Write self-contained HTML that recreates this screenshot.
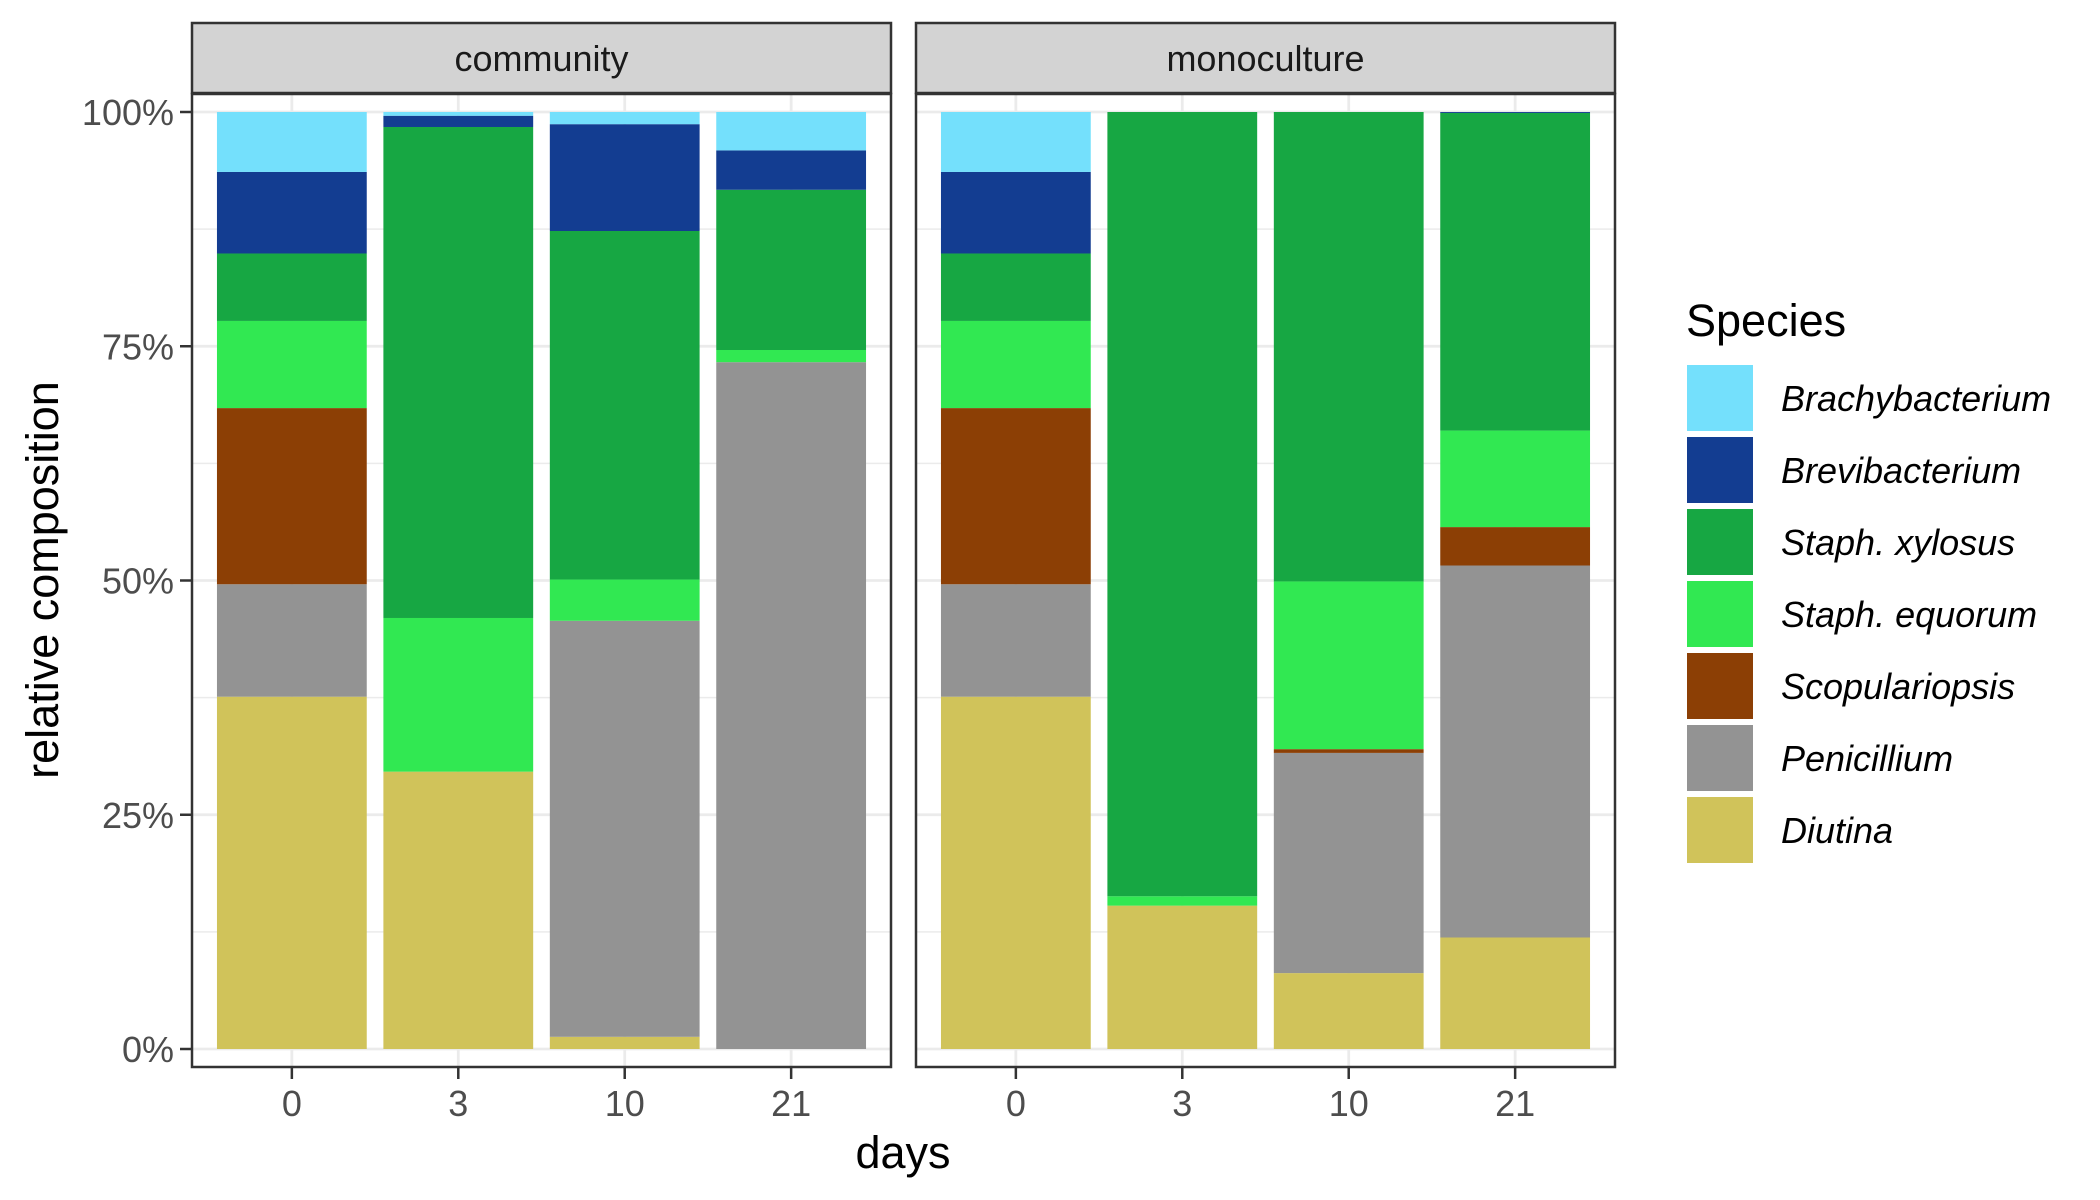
<!DOCTYPE html>
<html><head><meta charset="utf-8"><style>
html,body{margin:0;padding:0;background:#fff;}
svg{display:block;font-family:"Liberation Sans",Arial,sans-serif;}
</style></head><body>
<svg id="chart" width="2100" height="1200" viewBox="0 0 2100 1200" xmlns="http://www.w3.org/2000/svg">
<g id="panels"></g>
<text x="903" y="1168" font-size="45" text-anchor="middle" fill="#000">days</text>
<text transform="translate(58,580) rotate(-90)" font-size="45" text-anchor="middle" fill="#000">relative composition</text>
<g id="legend"></g>
</svg>
<script>
const facets = ["community", "monoculture"];
const days = ["0", "3", "10", "21"];
const species = ["Diutina", "Penicillium", "Scopulariopsis", "Staph. equorum", "Staph. xylosus", "Brevibacterium", "Brachybacterium"];
const colors = ["#d0c35a", "#939393", "#8c3f05", "#31e852", "#17a743", "#133d91", "#74e0fc"];
const legendOrder = ["Brachybacterium", "Brevibacterium", "Staph. xylosus", "Staph. equorum", "Scopulariopsis", "Penicillium", "Diutina"];
const yTicks = [0, 0.25, 0.5, 0.75, 1];
const yTickLabels = ["0%", "25%", "50%", "75%", "100%"];
const community = [
  [0.376, 0.120, 0.188, 0.093, 0.072, 0.087, 0.064],
  [0.296, 0.000, 0.000, 0.164, 0.524, 0.012, 0.004],
  [0.013, 0.444, 0.000, 0.044, 0.372, 0.114, 0.013],
  [0.000, 0.733, 0.000, 0.013, 0.171, 0.042, 0.041]
];
const monoculture = [
  [0.376, 0.120, 0.188, 0.093, 0.072, 0.087, 0.064],
  [0.153, 0.000, 0.000, 0.010, 0.837, 0.000, 0.000],
  [0.081, 0.235, 0.004, 0.179, 0.501, 0.000, 0.000],
  [0.119, 0.397, 0.041, 0.103, 0.339, 0.001, 0.000]
];
const facetData = [community, monoculture];

const NS = "http://www.w3.org/2000/svg";
function mk(tag, attrs, parent) {
  const e = document.createElementNS(NS, tag);
  for (const k in attrs) e.setAttribute(k, attrs[k]);
  parent.appendChild(e);
  return e;
}
const panelLefts = [192, 916];
const panelW = 699;
const plotTop = 94, plotBottom = 1067;
const y0 = 1049, y1 = 112;
function yScale(v) { return y0 - v * (y0 - y1); }
function xScale(px, i) { const u = panelW / 4.2; return px + (0.6 + i) * u; }
const bw = panelW / 4.2 * 0.9;
const panels = document.getElementById("panels");

facets.forEach((f, fi) => {
  const px = panelLefts[fi];
  const g = mk("g", {}, panels);
  
  
  const strip = mk("rect", {x: px, y: 23, width: panelW, height: 70, fill: "#d3d3d3", stroke: "#333", "stroke-width": 2.5}, g);
  
  
  const st = mk("text", {x: px + panelW / 2, y: 71, "font-size": 36, "text-anchor": "middle", fill: "#1a1a1a"}, g);
  st.textContent = f;
  
  
  [0.125, 0.375, 0.625, 0.875].forEach(v => {
    const l = mk("line", {x1: px, x2: px + panelW, y1: yScale(v), y2: yScale(v), stroke: "#ebebeb", "stroke-width": 1.4}, g);
    
    
  });
  yTicks.forEach(v => {
    const l = mk("line", {x1: px, x2: px + panelW, y1: yScale(v), y2: yScale(v), stroke: "#ebebeb", "stroke-width": 2.8}, g);
    
    
  });
  days.forEach((d, i) => {
    const l = mk("line", {x1: xScale(px, i), x2: xScale(px, i), y1: plotTop, y2: plotBottom, stroke: "#ebebeb", "stroke-width": 2.8}, g);
    
    
  });
  facetData[fi].forEach((vals, i) => {
    let cum = 0;
    vals.forEach((v, si) => {
      if (v <= 0) return;
      const top = yScale(cum + v), bot = yScale(cum);
      const r = mk("rect", {x: xScale(px, i) - bw / 2, y: top, width: bw, height: bot - top, fill: colors[si]}, g);
      
      
      cum += v;
    });
  });
  const b = mk("rect", {x: px, y: plotTop, width: panelW, height: plotBottom - plotTop, fill: "none", stroke: "#333", "stroke-width": 2.5}, g);
  
  
  days.forEach((d, i) => {
    const x = xScale(px, i);
    const t = mk("line", {x1: x, x2: x, y1: plotBottom, y2: plotBottom + 12, stroke: "#333", "stroke-width": 2.5}, g);
    
    
    const tl = mk("text", {x: x, y: 1116, "font-size": 36, "text-anchor": "middle", fill: "#4d4d4d"}, g);
    tl.textContent = d;
    
    
  });
  if (fi === 0) {
    yTicks.forEach((v, k) => {
      const t = mk("line", {x1: px - 12, x2: px, y1: yScale(v), y2: yScale(v), stroke: "#333", "stroke-width": 2.5}, g);
      
      
      const tl = mk("text", {x: px - 18, y: yScale(v) + 13, "font-size": 36, "text-anchor": "end", fill: "#4d4d4d"}, g);
      tl.textContent = yTickLabels[k];
      
      
    });
  }
});

const lg = document.getElementById("legend");
const lt = mk("text", {x: 1686, y: 336, "font-size": 45, fill: "#000"}, lg);
lt.textContent = "Species";


legendOrder.forEach((s, k) => {
  const si = species.indexOf(s);
  const y = 365 + k * 72;
  const r = mk("rect", {x: 1687, y: y, width: 66, height: 66, fill: colors[si]}, lg);
  
  
  const t = mk("text", {x: 1781, y: y + 46, "font-size": 36, "font-style": "italic", fill: "#000"}, lg);
  t.textContent = s;
  
  
});
</script>
</body></html>
